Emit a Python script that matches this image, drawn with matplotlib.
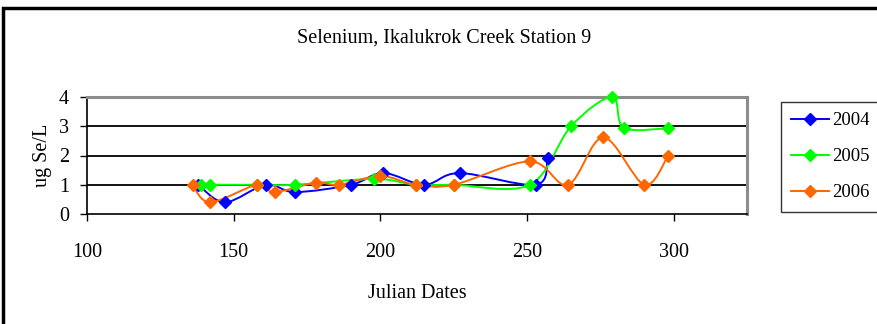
import matplotlib
matplotlib.use("Agg")
import matplotlib.pyplot as plt
from matplotlib.path import Path
from matplotlib.patches import PathPatch, Rectangle
from matplotlib.lines import Line2D

plt.rcParams['font.family'] = ['Liberation Serif', 'DejaVu Serif']

# Julian day and selenium concentration (ug Se/L) per year
days_2004 = [138, 147, 161, 171, 190, 201, 215, 227, 253, 257]
se_2004 = [1.0, 0.4, 1.0, 0.75, 1.0, 1.4, 1.0, 1.4, 1.0, 1.9]

days_2005 = [139, 142, 158, 171, 198, 212, 225, 251, 265, 279, 283, 298]
se_2005 = [1.0, 1.0, 1.0, 1.0, 1.2, 1.0, 1.0, 1.0, 3.0, 4.0, 2.95, 2.93]

days_2006 = [136, 142, 158, 164, 178, 186, 200, 212, 225, 251, 264, 276, 290, 298]
se_2006 = [1.0, 0.4, 1.0, 0.75, 1.07, 1.0, 1.3, 1.0, 1.0, 1.8, 1.0, 2.62, 1.0, 1.97]

years = ['2004', '2005', '2006']
colors = ['#0000FF', '#00FF00', '#FF6600']

FS = 14.5


def smooth_path(xs, ys):
    """Cubic Bezier path through the points (Catmull-Rom style tangents)."""
    pts = list(zip(xs, ys))
    n = len(pts)
    verts = [pts[0]]
    codes = [Path.MOVETO]
    for i in range(n - 1):
        p0 = pts[i - 1] if i > 0 else pts[i]
        p1 = pts[i]
        p2 = pts[i + 1]
        p3 = pts[i + 2] if i + 2 < n else pts[i + 1]
        c1 = (p1[0] + (p2[0] - p0[0]) / 6.0, p1[1] + (p2[1] - p0[1]) / 6.0)
        c2 = (p2[0] - (p3[0] - p1[0]) / 6.0, p2[1] - (p3[1] - p1[1]) / 6.0)
        verts += [c1, c2, p2]
        codes += [Path.CURVE4] * 3
    return Path(verts, codes)


fig = plt.figure(figsize=(8.78, 3.24), dpi=100)
ax = fig.add_axes([87 / 878, 1 - 214 / 324, (747 - 87) / 878, (214 - 97) / 324])

series = [(days_2004, se_2004), (days_2005, se_2005), (days_2006, se_2006)]
handles = []
for (xs, ys), col, yr in zip(series, colors, years):
    ax.add_patch(PathPatch(smooth_path(xs, ys), facecolor='none',
                           edgecolor=col, lw=1.4, zorder=3))
    ax.plot(xs, ys, linestyle='none', marker='D', markersize=6.5,
            color=col, zorder=4, clip_on=False)
    handles.append(Line2D([], [], color=col, lw=1.4, marker='D',
                          markersize=6.5, label=yr))

ax.set_xlim(100, 325)
ax.set_ylim(0, 4)
ax.set_xticks([100, 150, 200, 250, 300])
ax.set_yticks([0, 1, 2, 3, 4])
for yv in [1, 2, 3]:
    ax.axhline(yv, color='black', lw=1.3, zorder=1)

for side in ['top', 'right']:
    ax.spines[side].set_color('#8c8c8c')
    ax.spines[side].set_linewidth(2.2)
for side in ['left', 'bottom']:
    ax.spines[side].set_color('black')
    ax.spines[side].set_linewidth(1.2)

ax.tick_params(axis='both', direction='out', length=5, width=1,
               labelsize=FS, color='black')
ax.tick_params(axis='x', pad=16)
ax.tick_params(axis='y', pad=8)

ax.set_xlabel('Julian Dates', fontsize=FS, labelpad=16)
ax.set_ylabel('ug Se/L', fontsize=FS, labelpad=5)
fig.text(0.506, 1 - 38 / 324, 'Selenium, Ikalukrok Creek Station 9',
         ha='center', va='center', fontsize=FS)

leg = fig.legend(handles=handles, loc='upper left',
                 bbox_to_anchor=(781 / 878, 1 - 102 / 324),
                 prop={'size': 13.5}, frameon=True, fancybox=False,
                 handlelength=2.0, handletextpad=0.2, borderpad=0.55,
                 labelspacing=1.0, borderaxespad=0)
leg.get_frame().set_edgecolor('black')
leg.get_frame().set_linewidth(1.0)

# outer chart border
fig.add_artist(Rectangle((3 / 878, -0.05), 1.0, 1 - 8 / 324 + 0.05,
                         transform=fig.transFigure, fill=False,
                         edgecolor='black', lw=2.5))

fig.savefig('out.png', dpi=100)
